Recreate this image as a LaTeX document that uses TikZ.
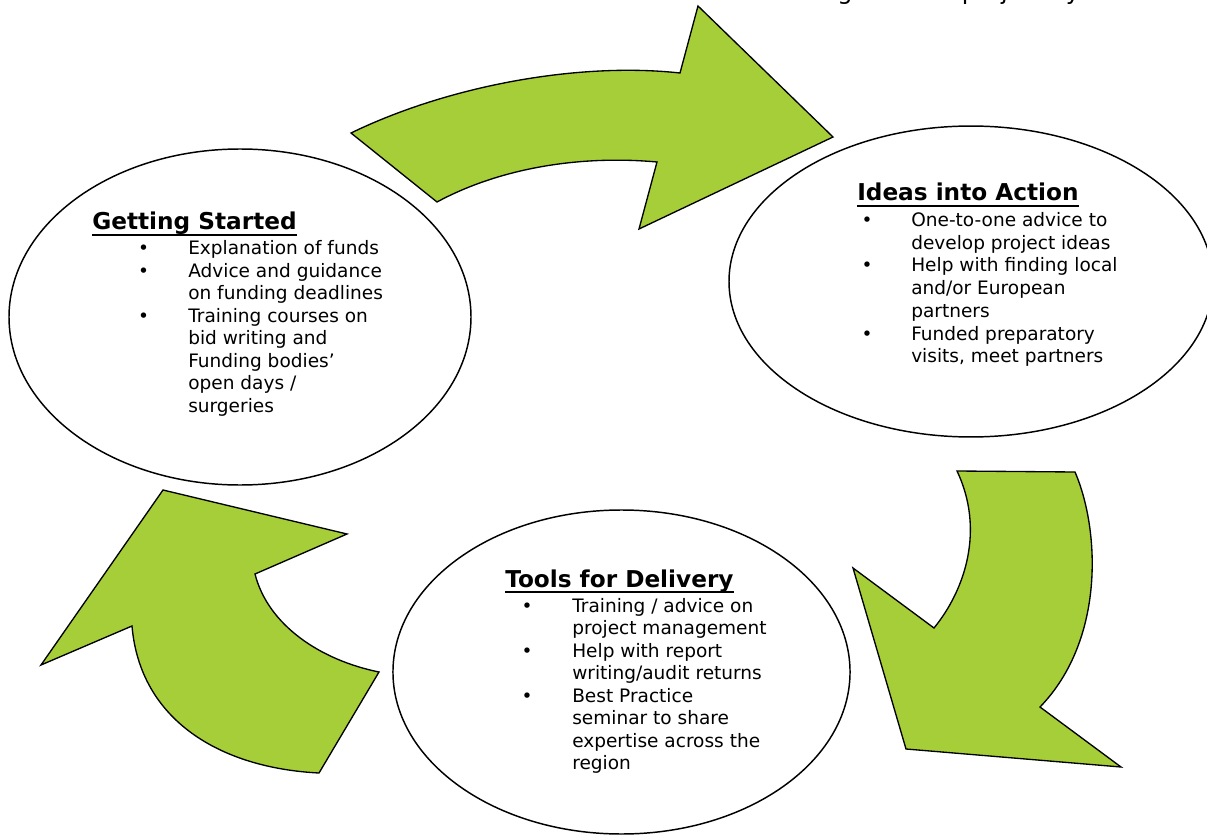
\documentclass[tikz,border=0pt]{standalone}
\usepackage{fontspec}
\setmainfont{DejaVu Sans}
\usetikzlibrary{shapes.geometric}
\definecolor{arrowgreen}{RGB}{166,206,57}
\begin{document}
\begin{tikzpicture}[x=0.75pt,y=-0.75pt,
  greenarrow/.style={fill=arrowgreen,draw=black,line width=1pt,line join=miter},
  bubble/.style={ellipse,draw=black,fill=white,line width=1.1pt,inner sep=0pt},
  body/.style={anchor=base west,inner sep=0pt,font=\fontsize{13.9}{16.9}\selectfont},
  bulletmark/.style={anchor=base,inner sep=0pt,font=\fontsize{13.9}{16.9}\selectfont},
  heading/.style={anchor=base west,inner sep=0pt,font=\fontsize{17.4}{20}\selectfont\bfseries},
  uline/.style={line width=1.4pt}]
\useasboundingbox (0,0) rectangle (1207,838);

% ---- cut-off caption at the very top ----
\node[anchor=base east,inner sep=0pt,font=\fontsize{18}{20}\selectfont] (caption) at (1115,0) {Advice throughout the project cycle};

% ---- arrows ----
\path[greenarrow] (351,133) -- (437,202)
  .. controls (500,168) and (580,155) .. (657,162)
  -- (639,229) -- (833,137) -- (698,6) -- (680,73)
  .. controls (580,62) and (450,85) .. cycle;

\path[greenarrow] (957,471) -- (1075,472)
  .. controls (1100,530) and (1105,640) .. (1040,707)
  -- (1121,767) -- (906,749) -- (853,568) -- (934,628)
  .. controls (965,590) and (985,530) .. cycle;

\path[greenarrow] (163,490) -- (347,534) -- (255,574)
  .. controls (268,625) and (320,660) .. (379,672)
  -- (319,773)
  .. controls (220,768) and (140,720) .. (132,626)
  -- (41,665) -- cycle;

% ---- ellipses ----
\node[bubble,minimum width=346.5pt,minimum height=252pt] (gs) at (240,317) {};
\node[bubble,minimum width=363pt,minimum height=233.2pt] (ia) at (971,281.5) {};
\node[bubble,minimum width=342.8pt,minimum height=243pt] (td) at (621.5,672) {};

% ---- Getting Started ----
\node[heading] (gsh) at (92,229) {Getting Started};
\draw[uline] ([yshift=-4.3pt]gsh.base west) -- ([yshift=-4.3pt]gsh.base east);
\foreach \n/\yy in {1/254,2/277,3/322}
  \node[bulletmark] (gsb\n) at (143.5,\yy) {•};
\foreach \n/\yy/\t in {1/254/{Explanation of funds},2/277/{Advice and guidance},
  3/299/{on funding deadlines},4/322/{Training courses on},5/344/{bid writing and},
  6/367/{Funding bodies’},7/389/{open days /},8/412/{surgeries}}
  \node[body] (gsl\n) at (188,\yy) {\t};

% ---- Ideas into Action ----
\node[heading] (iah) at (857,201) {Ideas into Action};
\draw[uline] ([yshift=-4pt]iah.base west) -- ([yshift=-4pt]iah.base east);
\foreach \n/\yy in {1/227,2/272,3/340}
  \node[bulletmark] (iab\n) at (867,\yy) {•};
\foreach \n/\yy/\t in {1/227/{One-to-one advice to},2/249/{develop project ideas},
  3/272/{Help with finding local},4/294/{and/or European},5/317/{partners},
  6/340/{Funded preparatory},7/362/{visits, meet partners}}
  \node[body] (ial\n) at (911,\yy) {\t};

% ---- Tools for Delivery ----
\node[heading] (tdh) at (505,587.5) {Tools for Delivery};
\draw[uline] ([yshift=-3.6pt]tdh.base west) -- ([yshift=-3.6pt]tdh.base east);
\foreach \n/\yy in {1/612,2/657,3/702}
  \node[bulletmark] (tdb\n) at (527,\yy) {•};
\foreach \n/\yy/\t in {1/612/{Training / advice on},2/634.5/{project management},
  3/657/{Help with report},4/679.5/{writing/audit returns},5/702/{Best Practice},
  6/724.5/{seminar to share},7/747/{expertise across the},8/769.5/{region}}
  \node[body] (tdl\n) at (572,\yy) {\t};
\end{tikzpicture}
\end{document}
